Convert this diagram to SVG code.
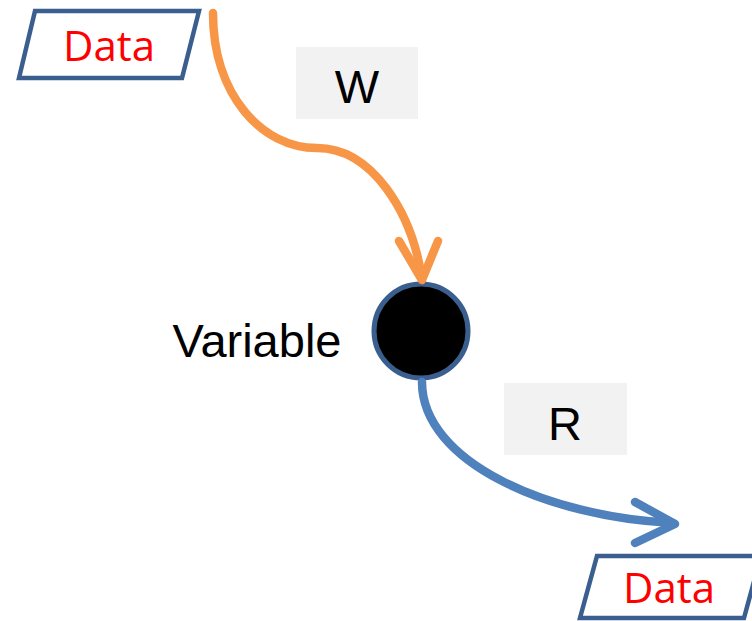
<svg xmlns="http://www.w3.org/2000/svg" width="752" height="621" viewBox="0 0 752 621">
  <defs>
    <style>
      .io { fill: #ffffff; stroke: #3a5f8f; stroke-width: 4.5; stroke-linejoin: miter; }
      .io-text { font-family: "Open Sans", "Liberation Sans", sans-serif; font-size: 42px; fill: #ff0000; text-anchor: middle; }
      .label-box { fill: #f2f2f2; }
      .label { font-family: "Liberation Sans", Arial, sans-serif; font-size: 47px; fill: #000000; text-anchor: middle; }
      .flow { fill: none; stroke-width: 8.5; stroke-linecap: round; stroke-linejoin: round; }
      .write { stroke: #f79646; }
      .read { stroke: #4f81bd; }
    </style>
  </defs>

  <!-- input data -->
  <g id="data-in">
    <polygon class="io" points="35,11 199,11 182,78 19,78"/>
    <text class="io-text" x="109" y="61">Data</text>
  </g>

  <!-- variable -->
  <g id="variable">
    <circle cx="421" cy="331" r="47" fill="#000000" stroke="#3a5f8f" stroke-width="5"/>
    <text class="label" x="257" y="357" font-size="48.5">Variable</text>
  </g>

  <!-- output data -->
  <g id="data-out">
    <polygon class="io" points="597,556 761,556 744,618 580,618"/>
    <text class="io-text" x="669" y="603">Data</text>
  </g>

  <!-- connectors -->
  <g id="connectors">
    <g id="write-flow">
      <path class="flow write" d="M213,13 C213,95 262,148 317,148 C372,148 412,212 422,279"/>
      <polyline class="flow write" points="399,241 422,280 438,241"/>
    </g>
    <g id="read-flow">
      <path class="flow read" d="M422,382 C422,462 548,517 673,523"/>
      <polyline class="flow read" points="635,502 675,524 635,543"/>
    </g>
  </g>

  <!-- connector labels -->
  <g id="label-w">
    <rect class="label-box" x="296" y="47" width="122" height="72"/>
    <text class="label" x="357" y="103">W</text>
  </g>
  <g id="label-r">
    <rect class="label-box" x="504" y="383" width="123" height="72"/>
    <text class="label" x="565" y="440">R</text>
  </g>
</svg>
